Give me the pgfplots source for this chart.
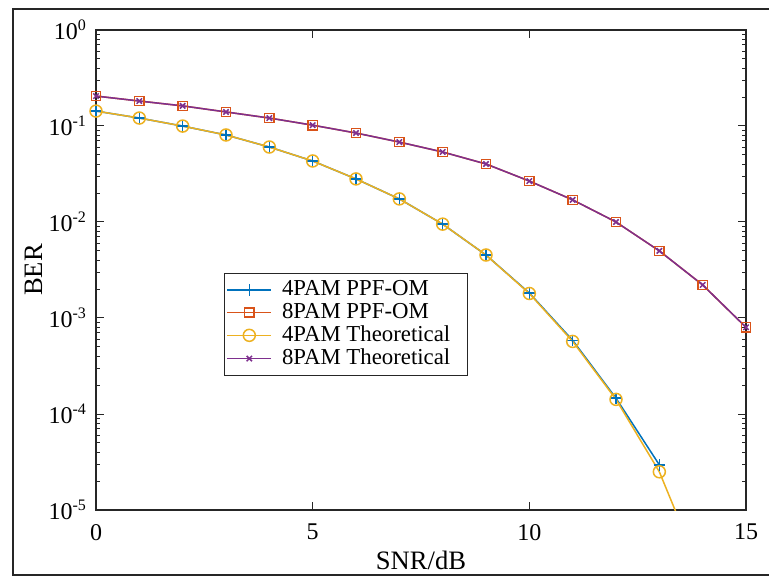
\documentclass[border=0pt]{standalone}
\usepackage{pgfplots}
\pgfplotsset{compat=1.18}
\usepackage{fontspec}
\setmainfont{Liberation Serif}
\definecolor{mblue}{rgb}{0,0.447,0.741}
\definecolor{morange}{rgb}{0.85,0.325,0.098}
\definecolor{myellow}{rgb}{0.929,0.694,0.125}
\definecolor{mpurple}{rgb}{0.494,0.184,0.556}
\definecolor{axgray}{rgb}{0.15,0.15,0.15}
\begin{document}
\begin{tikzpicture}
\clip (0,0) rectangle (384.5pt,288pt);
\fill[white] (0,0) rectangle (384.5pt,288pt);
\draw[line width=0.8pt, axgray] (6.5pt,0.5pt) rectangle (400pt,283.5pt);
\begin{axis}[
  at={(48pt,33pt)}, anchor=south west,
  scale only axis, width=325pt, height=240pt,
  xmin=0, xmax=15, ymode=log, ymin=1e-5, ymax=1,
  xtick={0,5,10,15},
  ytick={1e-5,1e-4,1e-3,1e-2,1e-1,1},
  yticklabels={10\textsuperscript{-5},10\textsuperscript{-4},10\textsuperscript{-3},10\textsuperscript{-2},10\textsuperscript{-1},10\textsuperscript{0}},
  /pgf/number format/assume math mode=true,
  tick align=inside,
  major tick length=4pt, minor tick length=2.2pt,
  axis line style={axgray, line width=0.6pt},
  every tick/.style={axgray, line width=0.5pt},
  tick label style={font=\fontsize{12}{14}\selectfont, black},
  xticklabel style={yshift=-3.5pt},
  yticklabel style={xshift=-1pt},
  xlabel={SNR/dB}, ylabel={BER},
  label style={font=\fontsize{13.3}{15}\selectfont},
  xlabel style={yshift=1.5pt},
  ylabel style={yshift=-4pt},
  legend style={at={(rel axis cs:0.197,0.494)}, anchor=north west,
    draw=axgray, line width=0.5pt, font=\fontsize{11.4}{13}\selectfont,
    row sep=-1.8pt, inner xsep=1pt, inner ysep=1.75pt,
    nodes={inner xsep=3pt}},
  legend cell align=left,
  legend image code/.code={\draw[mark repeat=2,mark phase=2,#1] plot coordinates {(0pt,0pt) (11pt,0pt) (22pt,0pt)};},
  every axis plot/.append style={line width=0.75pt},
]
\addplot[mblue, mark=+, mark size=2.8pt] coordinates {
(0,0.143) (1,0.121) (2,0.0998) (3,0.0806) (4,0.0604) (5,0.0432) (6,0.0281) (7,0.0174)
(8,0.0095) (9,0.00453) (10,0.00182) (11,0.000585) (12,0.000146) (13,0.0000295)};
\addlegendentry{\hspace*{2pt}4PAM PPF-OM\hspace*{4.5pt}}
\addplot[morange, mark=square, mark size=2.3pt] coordinates {
(0,0.205) (1,0.182) (2,0.162) (3,0.140) (4,0.121) (5,0.102) (6,0.0845) (7,0.068)
(8,0.0536) (9,0.0402) (10,0.0267) (11,0.0170) (12,0.0100) (13,0.0050) (14,0.00221) (15,0.00080)};
\addlegendentry{\hspace*{2pt}8PAM PPF-OM\hspace*{4.5pt}}
\addplot[myellow, mark=o, mark size=3pt] coordinates {
(0,0.143) (1,0.121) (2,0.0998) (3,0.0806) (4,0.0604) (5,0.0432) (6,0.0281) (7,0.0174)
(8,0.0095) (9,0.00453) (10,0.00180) (11,0.000570) (12,0.000142) (13,0.0000250)};
\addlegendentry{\hspace*{2pt}4PAM Theoretical\hspace*{4.5pt}}
\addplot[mpurple, mark=x, mark size=1.9pt] coordinates {
(0,0.205) (1,0.182) (2,0.162) (3,0.140) (4,0.121) (5,0.102) (6,0.0845) (7,0.068)
(8,0.0536) (9,0.0402) (10,0.0267) (11,0.0170) (12,0.0100) (13,0.0050) (14,0.00221) (15,0.00080)};
\addlegendentry{\hspace*{2pt}8PAM Theoretical\hspace*{4.5pt}}
\addplot[myellow, forget plot] coordinates {(13,0.0000250) (14,0.0000020)};
\end{axis}
\end{tikzpicture}
\end{document}
